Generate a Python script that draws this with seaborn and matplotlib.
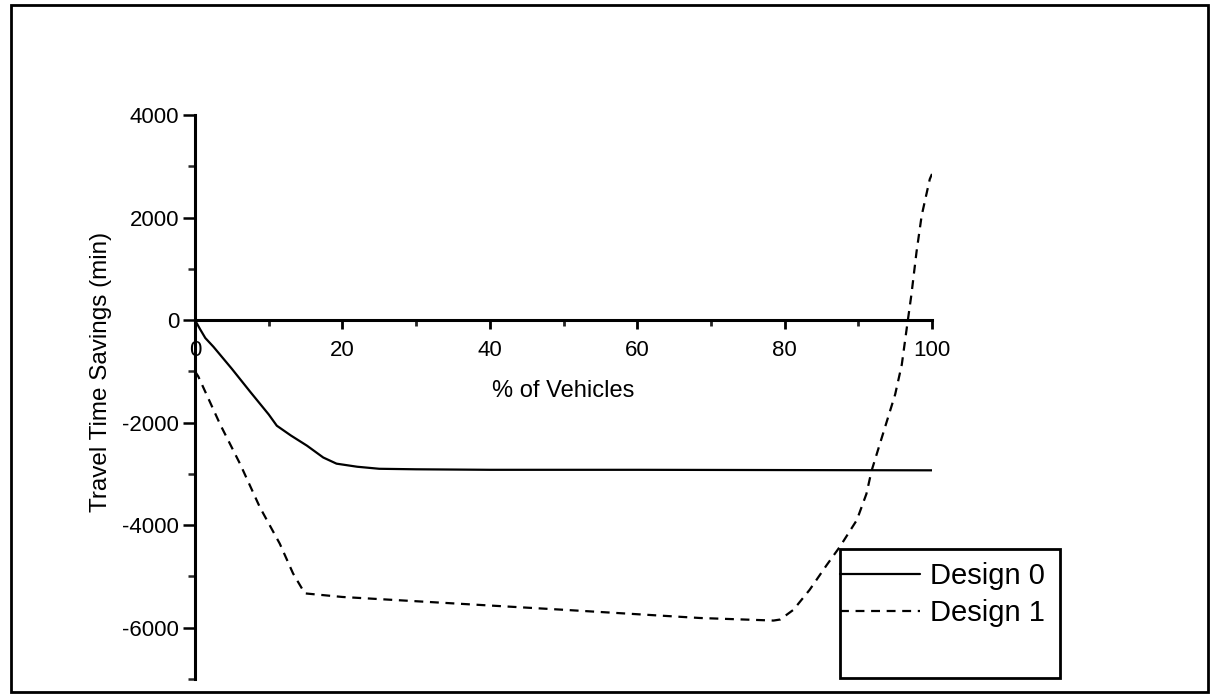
import numpy as np
import pandas as pd
import matplotlib
matplotlib.use('Agg')
import matplotlib.pyplot as plt
from matplotlib.ticker import MultipleLocator
from matplotlib.patches import Rectangle
import seaborn as sns

# Data
design0_x = [0, 0.7, 1.4, 2.5, 5, 7.5, 10, 11.1, 13, 15.2, 17.4, 19.2, 22, 25, 30, 40, 60, 80, 100]
design0_y = [0, -180, -350, -520, -950, -1400, -1840, -2060, -2250, -2450, -2680, -2800,
             -2860, -2900, -2910, -2920, -2920, -2925, -2930]

design1_x = [0, 0.45, 3.4, 6.1, 8.8, 11.5, 13.3, 14.9, 20, 32, 50, 68.5, 78.5, 79.4,
             81.2, 83.4, 85.7, 87.5, 89.8, 91.1, 91.8, 92.7, 95.0, 95.9, 96.6, 97.2,
             97.9, 98.6, 99.7, 100]
design1_y = [-1000, -1100, -2030, -2800, -3650, -4360, -4940, -5330, -5400, -5500,
             -5650, -5810, -5860, -5840, -5650, -5260, -4780, -4420, -3900, -3390,
             -2940, -2520, -1450, -870, -130, 490, 1330, 2040, 2750, 2850]

series_names = ['Design 0', 'Design 1']

sns.set_style('white')
plt.rcParams['font.family'] = ['Liberation Sans', 'DejaVu Sans']
plt.rcParams['axes.unicode_minus'] = False
plt.rcParams['text.color'] = 'black'
plt.rcParams['axes.labelcolor'] = 'black'

fig = plt.figure(figsize=(12.14, 7.0), dpi=100)
ax = fig.add_axes([195 / 1214, 21 / 700, 737 / 1214, 564 / 700])

sns.lineplot(x=design0_x, y=design0_y, ax=ax, color='black', linewidth=1.6,
             label=series_names[0])
sns.lineplot(x=design1_x, y=design1_y, ax=ax, color='black', linewidth=1.6,
             linestyle=(0, (4, 3)), label=series_names[1])

ax.set_xlim(0, 100)
ax.set_ylim(-7000, 4000)

# axes cross at the origin
ax.spines['left'].set_position(('data', 0))
ax.spines['bottom'].set_position(('data', 0))
ax.spines['top'].set_visible(False)
ax.spines['right'].set_visible(False)
for s in ['left', 'bottom']:
    ax.spines[s].set_linewidth(2.2)
    ax.spines[s].set_color('black')

ax.xaxis.set_major_locator(MultipleLocator(20))
ax.xaxis.set_minor_locator(MultipleLocator(10))
ax.yaxis.set_major_locator(MultipleLocator(2000))
ax.yaxis.set_minor_locator(MultipleLocator(1000))
ax.tick_params(axis='x', which='major', direction='out', length=6.5, width=2,
               pad=8, labelsize=16, colors='black', bottom=True)
ax.tick_params(axis='x', which='minor', direction='out', length=4, width=2, bottom=True)
ax.tick_params(axis='y', which='major', direction='out', length=8.5, width=1.8,
               pad=3, labelsize=16, colors='black', left=True)
ax.tick_params(axis='y', which='minor', direction='out', length=5, width=1.8, left=True)

ax.set_xlabel('% of Vehicles', fontsize=17)
ax.set_ylabel('Travel Time Savings (min)', fontsize=17.5)
ax.xaxis.set_label_coords(0.5, 0.53)
ax.yaxis.set_label_coords(-0.113, 0.545)
ax.grid(False)

# legend sits in a box at the lower right, partly outside the axes
ax.legend_.remove()
handles, labels = ax.get_legend_handles_labels()
fig.legend(handles, labels, loc='upper left', bbox_to_anchor=(840 / 1214, 1 - 562 / 700),
           bbox_transform=fig.transFigure, frameon=False, fontsize=21,
           borderpad=0, borderaxespad=0, handlelength=2.75, handletextpad=0.33,
           labelspacing=0.32)
fig.patches.append(Rectangle((840 / 1214, 1 - 678 / 700), 220 / 1214, 129 / 700,
                             transform=fig.transFigure, fill=False,
                             edgecolor='black', linewidth=2))

# outer frame around the whole picture
fig.patches.append(Rectangle((11 / 1214, 8 / 700), 1197 / 1214, 687 / 700,
                             transform=fig.transFigure, fill=False,
                             edgecolor='black', linewidth=2))

fig.savefig('out.png', dpi=100)
